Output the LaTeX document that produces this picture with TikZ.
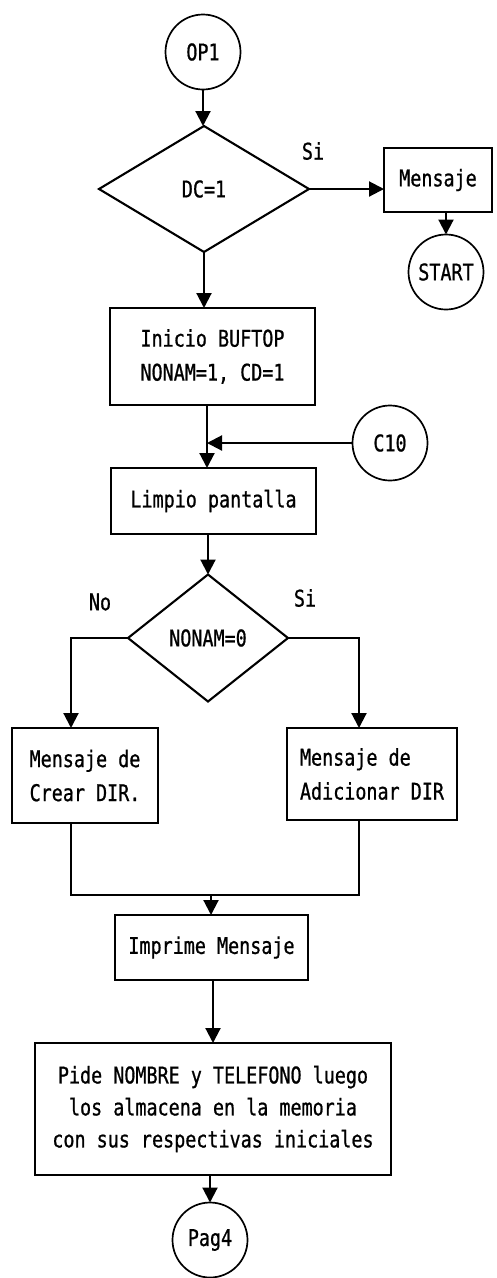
\documentclass[tikz,border=0pt]{standalone}
\usepackage{fontspec}
\newfontfamily\dotfont[FakeStretch=0.8,FakeBold=0.8]{DejaVu Sans Mono}
\usetikzlibrary{shapes.geometric,arrows.meta,calc}
\begin{document}
\begin{tikzpicture}[x=1pt,y=-1pt,
  font={\dotfont\fontsize{23}{34}\selectfont},
  term/.style={circle, draw, line width=1.7pt, minimum size=75pt, inner sep=0pt, outer sep=0pt},
  proc/.style={rectangle, draw, line width=2.1pt, inner sep=0pt, outer sep=0pt},
  dec/.style={diamond, draw, line width=2.1pt, inner sep=0pt, outer sep=0pt},
  flow/.style={line width=2.1pt, -{Triangle[length=15pt,width=15pt]}},
  plain/.style={line width=2.1pt},
  lbl/.style={inner sep=0pt}]
\useasboundingbox (0,0) rectangle (496,1278);
\node[term] (op1) at (203,52) {OP1};
\node[dec, minimum width=210pt, minimum height=126pt] (dc) at (204,189) {DC=1};
\node[proc, minimum width=108pt, minimum height=64pt] (msg) at (438,180) {Mensaje};
\node[term] (start) at (446,272) {START};
\node[lbl] (si1) at (313,151) {Si};
\node[proc, minimum width=205pt, minimum height=97pt, align=center] (init) at (212.5,356.5) {Inicio BUFTOP\\NONAM=1, CD=1};
\node[term] (c10) at (390,443) {C10};
\coordinate (jx) at (207,443);
\node[proc, minimum width=205pt, minimum height=66pt] (limp) at (213.5,501) {Limpio pantalla};
\node[dec, minimum width=160pt, minimum height=127pt] (dn) at (208,638) {NONAM=0};
\node[lbl] (no) at (100,602) {No};
\node[lbl] (si2) at (305,598) {Si};
\node[proc, minimum width=146pt, minimum height=95pt, align=left] (crear) at (85,775.5) {Mensaje de\\Crear DIR.};
\node[proc, minimum width=170pt, minimum height=92pt, align=left] (adic) at (372,774) {Mensaje de\\Adicionar DIR};
\coordinate (m) at (211,895);
\node[proc, minimum width=193pt, minimum height=65pt] (impr) at (211.5,947.5) {Imprime Mensaje};
\node[proc, minimum width=356pt, minimum height=132pt, align=center, font={\dotfont\fontsize{23}{32}\selectfont}] (pide) at (213,1109) {Pide NOMBRE y TELEFONO luego\\los almacena en la memoria\\con sus respectivas iniciales};
\node[term] (pag4) at (210,1240) {Pag4};
%
\draw[flow] (op1.south) -- (op1.south |- dc.north);
\draw[flow] (dc.east) -- (dc.east -| msg.west);
\draw[flow] (start.north |- msg.south) -- (start.north);
\draw[flow] (dc.south) -- (dc.south |- init.north);
\draw[flow] (init.south -| jx) -- (limp.north -| jx);
\draw[flow] (c10.west) -- (jx);
\draw[flow] (dn.north |- limp.south) -- (dn.north);
\draw[flow] (dn.west) -| ($(crear.north)+(-14,0)$);
\draw[flow] (dn.east) -| ($(adic.north)+(-13,0)$);
\draw[plain] ($(crear.south)+(-14,0)$) |- (m) -| ($(adic.south)+(-13,0)$);
\draw[flow] (m) -- (impr.north -| m);
\draw[flow] (impr.south -| pide.north) -- (pide.north);
\draw[flow] (pide.south -| pag4) -- (pag4.north);
\end{tikzpicture}
\end{document}
